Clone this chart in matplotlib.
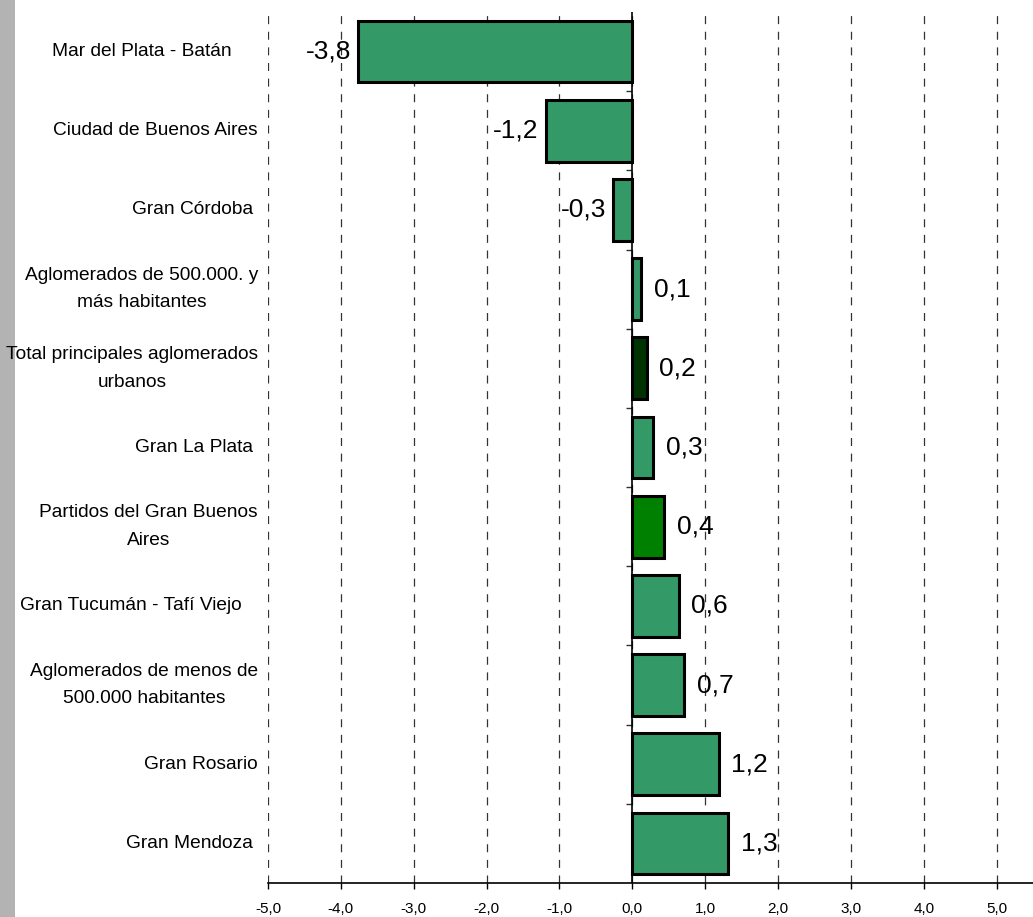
import matplotlib
matplotlib.use("Agg")
import matplotlib.pyplot as plt
import matplotlib.transforms as mtransforms
from matplotlib.patches import Rectangle
from matplotlib.ticker import FixedLocator, NullFormatter

# datos (de arriba hacia abajo)
aglomerados = [
    "Mar del Plata - Batán     ",
    "Ciudad de Buenos Aires",
    "Gran Córdoba ",
    "Aglomerados de 500.000. y\nmás habitantes",
    "Total principales aglomerados\nurbanos",
    "Gran La Plata ",
    "Partidos del Gran Buenos\nAires",
    "Gran Tucumán - Tafí Viejo   ",
    "Aglomerados de menos de\n500.000 habitantes",
    "Gran Rosario",
    "Gran Mendoza ",
]
variacion = [-3.76, -1.19, -0.26, 0.12, 0.20, 0.29, 0.44, 0.64, 0.71, 1.19, 1.32]
etiquetas = ["-3,8", "-1,2", "-0,3", "0,1", "0,2", "0,3", "0,4", "0,6", "0,7", "1,2", "1,3"]
colores = ["#339966", "#339966", "#339966", "#339966", "#003300", "#339966",
           "#008000", "#339966", "#339966", "#339966", "#339966"]
xticks = [-5, -4, -3, -2, -1, 0, 1, 2, 3, 4, 5]

plt.rcParams["font.family"] = ["Liberation Sans", "DejaVu Sans"]

fig = plt.figure(figsize=(10.33, 9.17), dpi=100)
fig.patches.append(Rectangle((0, 0), 15 / 1033, 1, transform=fig.transFigure,
                             facecolor="#b3b3b3", edgecolor="none", zorder=-1))
ax = fig.add_axes([268 / 1033, 34 / 917, 1 - 268 / 1033, (883 - 12) / 917])
ax.set_facecolor("none")

pos = list(range(len(aglomerados)))
ax.barh(pos, variacion, height=0.78, color=colores, edgecolor="black",
        linewidth=2.2, zorder=3)

ax.set_xlim(-5, 5.5)
ax.set_ylim(len(aglomerados) - 0.5, -0.5)

# grilla vertical punteada
for x in xticks:
    ax.axvline(x, color="#333333", linewidth=0.9, linestyle=(0, (6.4, 6.1)), zorder=1)

# eje en cero con marcas entre categorias
ax.axvline(0, color="black", linewidth=1.2, zorder=4)
ax.spines["left"].set_position(("data", 0))
ax.spines["left"].set_visible(False)
ax.yaxis.set_major_locator(FixedLocator([p + 0.5 for p in pos[:-1]]))
ax.yaxis.set_major_formatter(NullFormatter())
ax.tick_params(axis="y", direction="out", length=4, width=1, color="#333333")
for s in ["top", "right"]:
    ax.spines[s].set_visible(False)
ax.spines["bottom"].set_linewidth(1.2)

ax.set_xticks(xticks)
ax.set_xticklabels([f"{x:.1f}".replace(".", ",") for x in xticks], fontsize=11)
ax.tick_params(axis="x", direction="out", length=4, width=1, pad=9.5)

trans = mtransforms.blended_transform_factory(ax.transAxes, ax.transData)
for i, nombre in enumerate(aglomerados):
    ax.text(-0.013, i, nombre, transform=trans, ha="right", va="center",
            multialignment="center", fontsize=13.8, linespacing=1.8)

# etiquetas de valores
for i, (v, t) in enumerate(zip(variacion, etiquetas)):
    if v < 0:
        ax.annotate(t, (v, i), xytext=(-5, 0), textcoords="offset points",
                    ha="right", va="center", fontsize=19)
    else:
        ax.annotate(t, (v, i), xytext=(9, 0), textcoords="offset points",
                    ha="left", va="center", fontsize=19)

fig.savefig("out.png", dpi=100)
